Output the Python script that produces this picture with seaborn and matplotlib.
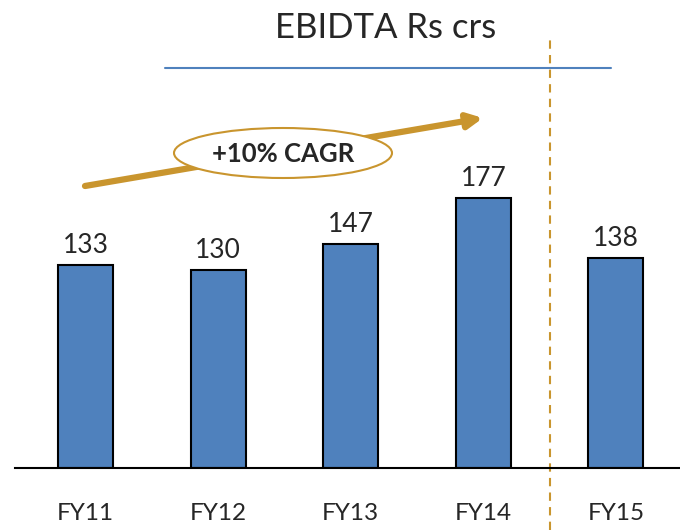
import matplotlib.pyplot as plt
import matplotlib.patches as mpatches
import seaborn as sns

sns.set_style('white')
plt.rcParams['font.family'] = ['Lato', 'DejaVu Sans']

# datos
years = ['FY11', 'FY12', 'FY13', 'FY14', 'FY15']
ebidta = [133, 130, 147, 177, 138]
titulo = 'EBIDTA Rs crs'
cagr = '+10% CAGR'

azul = '#4F81BD'
naranja = '#C9952E'

fig = plt.figure(figsize=(6.8, 5.3), dpi=100)
# eje ocupa casi toda la figura, la base de las barras a 468 px
ax = fig.add_axes([15/680, 62/530, 665/680, 468/530])

sns.barplot(x=years, y=ebidta, color=azul, edgecolor='black', linewidth=1.5,
            width=0.415, saturation=1, ax=ax)
ax.set_xlim(-0.532, 4.483)
ax.set_ylim(0, 306.9)
ax.bar_label(ax.containers[0], padding=5, fontsize=19)

for s in ['top', 'left', 'right']:
    ax.spines[s].set_visible(False)
ax.spines['bottom'].set_color('black')
ax.spines['bottom'].set_linewidth(1.5)
ax.set_yticks([])
ax.set_xlabel('')
ax.set_ylabel('')
ax.tick_params(axis='x', length=0, pad=25, labelsize=17.5)

# linea discontinua entre FY14 y FY15
ax.axvline(3.5, ymin=-0.132, ymax=0.919, color=naranja, lw=1.5,
           ls=(0, (4, 3)), clip_on=False)

# titulo y subrayado
fig.text(386/680, 1 - 28/530, titulo, ha='center', va='center', fontsize=25)
ax.plot([165/680, 611/680], [1 - 68/530, 1 - 68/530], transform=fig.transFigure,
        color=azul, lw=1.5, clip_on=False)

# flecha de crecimiento
ax.annotate('', xy=(483/680, 1 - 118/530), xytext=(85/680, 1 - 186/530),
            xycoords='figure fraction', textcoords='figure fraction',
            arrowprops=dict(arrowstyle='-|>', lw=4.5, color=naranja,
                            mutation_scale=22, shrinkA=0, shrinkB=0))
elipse = mpatches.Ellipse((283/680, 1 - 153/530), 218/680, 50/530,
                          transform=fig.transFigure, facecolor='white',
                          edgecolor=naranja, lw=1.5, zorder=5, clip_on=False)
ax.add_patch(elipse)
fig.text(283/680, 1 - 154/530, cagr, ha='center', va='center',
         fontsize=18.5, fontweight='bold', zorder=6)

fig.savefig('out.png', dpi=100)
